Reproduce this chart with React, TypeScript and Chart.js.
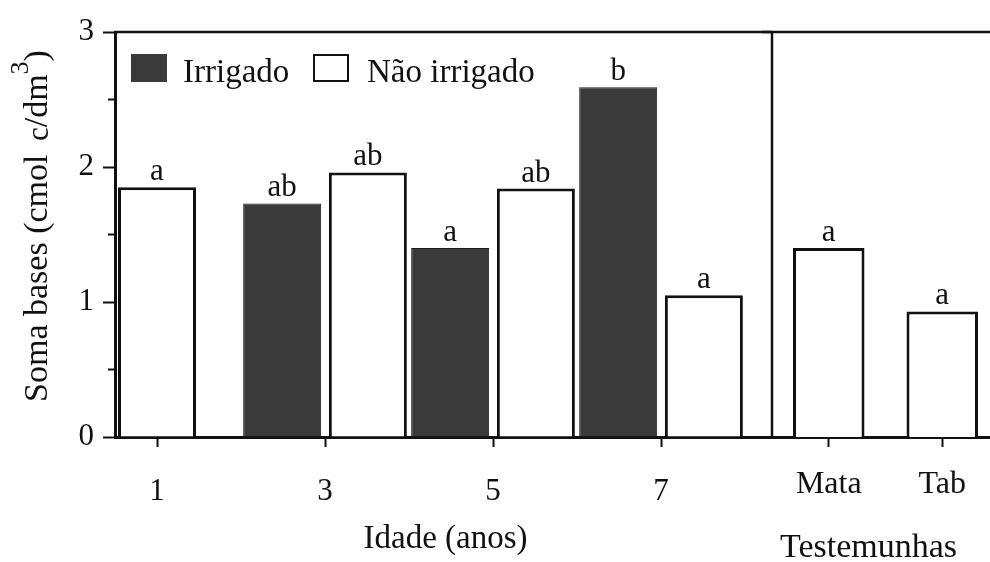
import React, { useEffect, useRef } from 'react';
import { Chart, registerables } from 'chart.js';

Chart.register(...registerables);

// ---------- data ----------
const ages = [1, 3, 5, 7];
const irrigado = [null, 1.73, 1.40, 2.59];
const naoIrrigado = [1.85, 1.96, 1.84, 1.05];
const irrigadoLetters = ['', 'ab', 'a', 'b'];
const naoIrrigadoLetters = ['a', 'ab', 'ab', 'a'];
const testemunhas = ['Mata', 'Tab'];
const testemunhasValues = [1.40, 0.93];
const testemunhasLetters = ['a', 'a'];
const yMajorTicks = [0, 1, 2, 3];
const yMinorTicks = [0.5, 1.5, 2.5];
const seriesNames = ['Irrigado', 'Não irrigado'];
const xTitleAges = 'Idade (anos)';
const xTitleControls = 'Testemunhas';

// ---------- styles ----------
const FONT = '"Liberation Serif", "Times New Roman", serif';
const INK = '#111111';
const DARK = '#3a3a3a';
const W = 990;
const H = 562;
const PLOT_TOP = 32;
const PLOT_LEFT = 115;
const DIVIDER = 772;
const X_AXIS_H = 125; // plot bottom at 437
const RIGHT_CANVAS_LEFT = 762;
const RIGHT_CANVAS_W = 245;
const AGE_AXIS_MIN = 0.5;
const AGE_AXIS_MAX = 8.321;

Chart.defaults.font.family = FONT;
Chart.defaults.color = INK;

function drawLetters(chart: any, lettersPerDataset: string[][]) {
  const ctx = chart.ctx;
  ctx.save();
  ctx.font = `31px ${FONT}`;
  ctx.fillStyle = INK;
  ctx.textAlign = 'center';
  ctx.textBaseline = 'alphabetic';
  chart.data.datasets.forEach((ds: any, di: number) => {
    const meta = chart.getDatasetMeta(di);
    meta.data.forEach((bar: any, i: number) => {
      const v = ds.data[i];
      const t = lettersPerDataset[di] ? lettersPerDataset[di][i] : '';
      if (v === null || v === undefined || !t) return;
      ctx.fillText(t, bar.x, bar.y - 7);
    });
  });
  ctx.restore();
}

const leftPlugin = {
  id: 'leftDecor',
  afterDraw(chart: any) {
    const ctx = chart.ctx;
    const a = chart.chartArea;
    const y = chart.scales.y;
    ctx.save();
    // top frame line
    ctx.strokeStyle = INK;
    ctx.lineWidth = 2.5;
    ctx.beginPath();
    ctx.moveTo(a.left - 1, a.top);
    ctx.lineTo(chart.width, a.top);
    ctx.stroke();
    // minor ticks
    ctx.lineWidth = 2;
    yMinorTicks.forEach((v) => {
      const py = y.getPixelForValue(v);
      ctx.beginPath();
      ctx.moveTo(a.left - 7, py);
      ctx.lineTo(a.left, py);
      ctx.stroke();
    });
    ctx.restore();

    drawLetters(chart, [irrigadoLetters, naoIrrigadoLetters]);

    // legend inside plot
    ctx.save();
    ctx.font = `33px ${FONT}`;
    ctx.textBaseline = 'alphabetic';
    ctx.textAlign = 'left';
    const items = [
      { x: a.left + 16, tx: a.left + 68 },
      { x: a.left + 198, tx: a.left + 252 },
    ];
    chart.data.datasets.forEach((ds: any, i: number) => {
      const it = items[i];
      const sy = a.top + 22;
      ctx.fillStyle = ds.backgroundColor;
      ctx.fillRect(it.x, sy, 36, 28);
      if (ds.backgroundColor === '#ffffff') {
        ctx.strokeStyle = INK;
        ctx.lineWidth = 2;
        ctx.strokeRect(it.x + 1, sy + 1, 34, 26);
      }
      ctx.fillStyle = INK;
      ctx.fillText(ds.label, it.tx, a.top + 50);
    });
    ctx.restore();

    // x title
    ctx.save();
    ctx.font = `33px ${FONT}`;
    ctx.fillStyle = INK;
    ctx.textAlign = 'center';
    ctx.textBaseline = 'alphabetic';
    ctx.fillText(xTitleAges, (a.left + a.right) / 2 + 2, 548);
    ctx.restore();

    // y title with subscript / superscript
    ctx.save();
    const segs = [
      { t: 'Soma bases (cmol ', s: 34, dy: 0, gap: 5 },
      { t: 'c', s: 31, dy: 1, gap: 0 },
      { t: '/dm', s: 34, dy: 0, gap: 0 },
      { t: '3', s: 26, dy: -19, gap: 0 },
      { t: ')', s: 34, dy: 0, gap: 0 },
    ];
    let total = 0;
    segs.forEach((sg) => {
      ctx.font = `${sg.s}px ${FONT}`;
      total += ctx.measureText(sg.t).width + sg.gap;
    });
    const cy = 226;
    ctx.translate(47, cy + total / 2);
    ctx.rotate(-Math.PI / 2);
    ctx.fillStyle = INK;
    ctx.textAlign = 'left';
    ctx.textBaseline = 'alphabetic';
    let x = 0;
    segs.forEach((sg) => {
      ctx.font = `${sg.s}px ${FONT}`;
      ctx.fillText(sg.t, x, sg.dy);
      x += ctx.measureText(sg.t).width + sg.gap;
    });
    ctx.restore();
  },
};

const rightPlugin = {
  id: 'rightDecor',
  afterDraw(chart: any) {
    const ctx = chart.ctx;
    const a = chart.chartArea;
    ctx.save();
    ctx.strokeStyle = INK;
    ctx.lineWidth = 2.5;
    ctx.beginPath();
    ctx.moveTo(0, a.top);
    ctx.lineTo(chart.width, a.top);
    ctx.stroke();
    ctx.lineWidth = 2.5;
    ctx.beginPath();
    ctx.moveTo(a.left, a.top);
    ctx.lineTo(a.left, a.bottom);
    ctx.stroke();
    ctx.restore();

    drawLetters(chart, [testemunhasLetters]);

    ctx.save();
    ctx.font = `34px ${FONT}`;
    ctx.fillStyle = INK;
    ctx.textAlign = 'left';
    ctx.textBaseline = 'alphabetic';
    ctx.fillText(xTitleControls, a.left + 8, 557);
    ctx.restore();
  },
};

export default function App() {
  const leftRef = useRef<HTMLCanvasElement | null>(null);
  const rightRef = useRef<HTMLCanvasElement | null>(null);

  useEffect(() => {
    if (!leftRef.current || !rightRef.current) return;

    const left = new Chart(leftRef.current, {
      type: 'bar',
      data: {
        labels: ages,
        datasets: [
          {
            label: seriesNames[0],
            data: irrigado,
            backgroundColor: DARK,
            borderColor: '#1a1a1a',
            borderWidth: 1,
          },
          {
            label: seriesNames[1],
            data: naoIrrigado,
            backgroundColor: '#ffffff',
            borderColor: INK,
            borderWidth: 3,
          },
        ] as any,
      },
      options: {
        responsive: false,
        animation: false,
        devicePixelRatio: 1,
        layout: { padding: { top: PLOT_TOP, left: 0, right: 0, bottom: 0 } },
        datasets: {
          bar: {
            categoryPercentage: 1.02,
            barPercentage: 0.92,
            maxBarThickness: 78,
            skipNull: true,
          },
        },
        plugins: { legend: { display: false }, tooltip: { enabled: false } },
        scales: {
          x: {
            type: 'linear',
            offset: false,
            min: AGE_AXIS_MIN,
            max: AGE_AXIS_MAX,
            afterBuildTicks: (s: any) => {
              s.ticks = ages.map((v) => ({ value: v }));
            },
            afterFit: (s: any) => {
              s.height = X_AXIS_H;
            },
            grid: {
              offset: false,
              drawOnChartArea: false,
              drawTicks: true,
              tickLength: 10,
              tickWidth: 2,
              tickColor: INK,
            },
            border: { display: true, width: 3, color: INK },
            ticks: {
              font: { size: 31, family: FONT },
              color: INK,
              padding: 26,
              maxRotation: 0,
            },
          },
          y: {
            min: 0,
            max: 3,
            afterBuildTicks: (s: any) => {
              s.ticks = yMajorTicks.map((v) => ({ value: v }));
            },
            afterFit: (s: any) => {
              s.width = PLOT_LEFT;
            },
            grid: {
              drawOnChartArea: false,
              drawTicks: true,
              tickLength: 12,
              tickWidth: 2,
              tickColor: INK,
            },
            border: { display: true, width: 3, color: INK },
            ticks: {
              font: { size: 31, family: FONT },
              color: INK,
              padding: 9,
            },
          },
        },
      } as any,
      plugins: [leftPlugin],
    });

    const right = new Chart(rightRef.current, {
      type: 'bar',
      data: {
        labels: testemunhas,
        datasets: [
          {
            label: seriesNames[1],
            data: testemunhasValues,
            backgroundColor: '#ffffff',
            borderColor: INK,
            borderWidth: 3,
          },
        ],
      },
      options: {
        responsive: false,
        animation: false,
        devicePixelRatio: 1,
        layout: {
          padding: {
            top: PLOT_TOP,
            left: DIVIDER - RIGHT_CANVAS_LEFT,
            right: RIGHT_CANVAS_LEFT + RIGHT_CANVAS_W - 999,
            bottom: 0,
          },
        },
        datasets: { bar: { categoryPercentage: 1, barPercentage: 0.63 } },
        plugins: { legend: { display: false }, tooltip: { enabled: false } },
        scales: {
          x: {
            type: 'category',
            offset: true,
            afterFit: (s: any) => {
              s.height = X_AXIS_H;
            },
            grid: {
              drawOnChartArea: false,
              drawTicks: true,
              tickLength: 10,
              tickWidth: 2,
              tickColor: INK,
              offset: false,
            },
            border: { display: true, width: 3, color: INK },
            ticks: {
              font: { size: 32, family: FONT },
              color: INK,
              padding: 18,
              maxRotation: 0,
            },
          },
          y: { min: 0, max: 3, display: false },
        },
      } as any,
      plugins: [rightPlugin],
    });

    return () => {
      left.destroy();
      right.destroy();
    };
  }, []);

  return (
    <div
      style={{
        position: 'fixed',
        left: 0,
        top: 0,
        width: W,
        height: H,
        overflow: 'hidden',
        background: '#ffffff',
      }}
    >
      <canvas
        ref={leftRef}
        width={DIVIDER}
        height={H}
        style={{ position: 'absolute', left: 0, top: 0, width: DIVIDER, height: H }}
      />
      <canvas
        ref={rightRef}
        width={RIGHT_CANVAS_W}
        height={H}
        style={{
          position: 'absolute',
          left: RIGHT_CANVAS_LEFT,
          top: 0,
          width: RIGHT_CANVAS_W,
          height: H,
        }}
      />
    </div>
  );
}
